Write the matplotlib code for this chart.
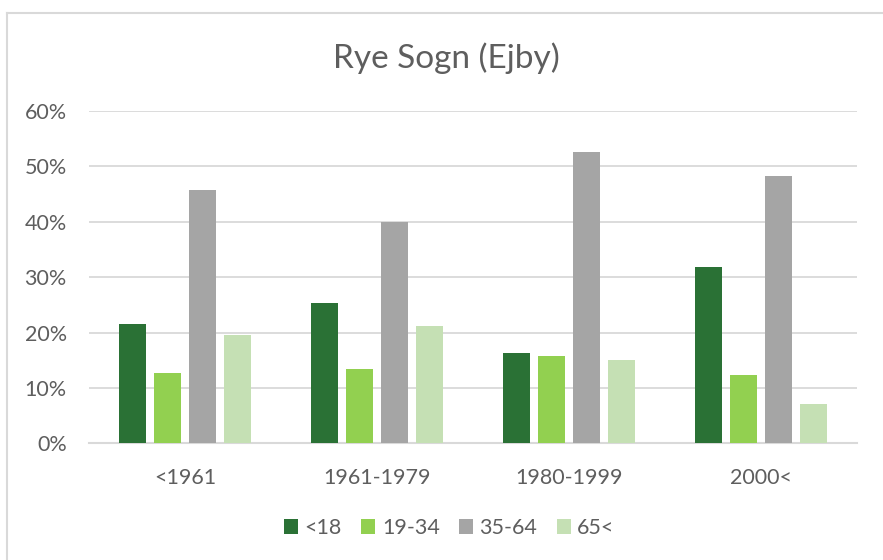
import matplotlib
matplotlib.use("Agg")
import matplotlib.pyplot as plt
from matplotlib.lines import Line2D
from matplotlib.patches import Patch
import numpy as np

# data
periods = ["<1961", "1961-1979", "1980-1999", "2000<"]
age_groups = ["<18", "19-34", "35-64", "65<"]
under_18 = [0.216, 0.253, 0.163, 0.319]
age_19_34 = [0.127, 0.134, 0.157, 0.123]
age_35_64 = [0.458, 0.399, 0.526, 0.482]
over_65 = [0.195, 0.211, 0.150, 0.071]
colors = ["#2A7135", "#92D050", "#A5A5A5", "#C5E0B4"]

plt.rcParams['font.family'] = ['Lato', 'DejaVu Sans']
text_color = "#5E5E5E"
grid_color = "#D9D9D9"

fig = plt.figure(figsize=(8.83, 5.6), dpi=100)
ax = fig.add_axes([89 / 883, 116.7 / 560, 768 / 883, 332.3 / 560])

x = np.arange(len(periods))
pitch = 0.182
width = 0.14
series = [under_18, age_19_34, age_35_64, over_65]
for i, (vals, col) in enumerate(zip(series, colors)):
    ax.bar(x + (i - 1.5) * pitch, vals, width, color=col, zorder=3)

ax.set_xlim(-0.5, 3.5)
ax.set_ylim(0, 0.6)
ax.set_yticks(np.arange(0, 0.61, 0.1))
ax.set_yticklabels([f"{int(round(v * 100))}%" for v in np.arange(0, 0.61, 0.1)])
ax.set_xticks(x)
ax.set_xticklabels(periods)
ax.tick_params(axis='both', length=0, labelsize=15.5, labelcolor=text_color)
ax.tick_params(axis='x', pad=18)
ax.tick_params(axis='y', pad=16)
ax.grid(axis='y', color=grid_color, linewidth=1.3, zorder=0)
for s in ["top", "right", "left"]:
    ax.spines[s].set_visible(False)
ax.spines["bottom"].set_color(grid_color)
ax.spines["bottom"].set_linewidth(1.5)

fig.text(0.506, 0.896, "Rye Sogn (Ejby)", ha="center", va="center",
         fontsize=24, color=text_color)

handles = [Patch(facecolor=c, edgecolor="none") for c in colors]
fig.legend(handles, age_groups, loc="center", bbox_to_anchor=(0.509, 0.057),
           ncol=4, frameon=False, fontsize=15.5, labelcolor=text_color,
           handlelength=0.65, handleheight=0.65, handletextpad=0.3,
           columnspacing=0.9)

# chart area border (left and top edges visible)
fig.add_artist(Line2D([7.5 / 883, 7.5 / 883], [0, 1 - 12.5 / 560],
                      color=grid_color, linewidth=1.5))
fig.add_artist(Line2D([7.5 / 883, 1], [1 - 12.5 / 560, 1 - 12.5 / 560],
                      color=grid_color, linewidth=1.5))

fig.savefig("out.png", dpi=100, facecolor="white")
